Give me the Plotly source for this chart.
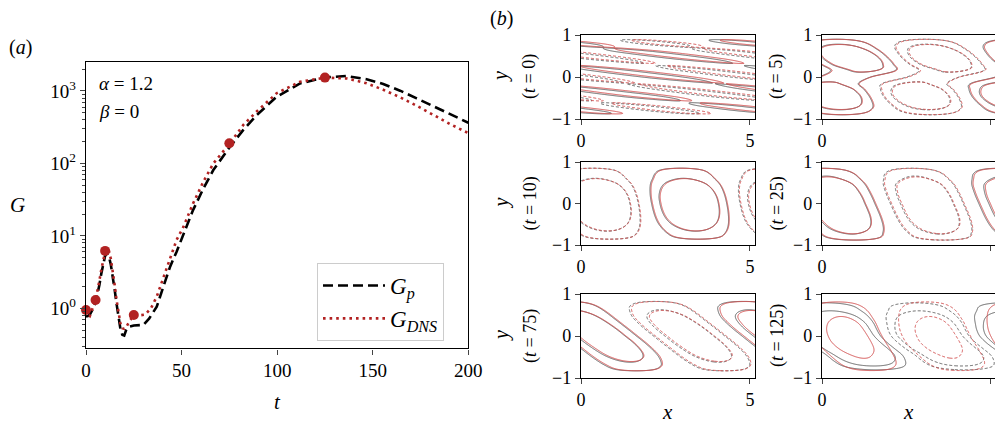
import numpy as np
import plotly.graph_objects as go

# ---------------- panel (a): gain curves ----------------
T_P = [0, 1, 2, 3, 4, 5, 6, 7, 8, 9, 10, 11, 12, 13, 14, 15, 16, 17, 18, 19, 20, 21, 22, 25, 30,
       33, 37, 40.5, 44, 47.4, 51, 56, 61.4, 66.6, 75.3, 82.3, 89.3, 99.7, 112, 125, 136.4, 146.8,
       155.5, 164.3, 173, 181.7, 190.4, 200]
G_P = [0.77, 0.78, 0.82, 0.9, 1.02, 1.2, 1.55, 2.1, 3.0, 4.2, 5.3, 5.7, 5.2, 4.0, 2.8, 1.8, 1.15,
       0.75, 0.52, 0.43, 0.42, 0.5, 0.55, 0.58, 0.59, 0.72, 1.05, 2.0, 3.76, 6.05, 10.8, 22.7, 45,
       81, 170, 290, 465, 830, 1270, 1540, 1610, 1450, 1250, 1010, 790, 620, 480, 365]
T_DNS = [0, 1, 2, 3, 4, 5, 6, 7, 8, 9, 10, 11, 12, 13, 14, 15, 16, 17, 18, 19, 20, 21, 23, 25, 28,
         31, 34, 37, 40.5, 44, 47.4, 51, 56, 61.4, 66.6, 75.3, 82.3, 89.3, 99.7, 112, 125, 136.4,
         146.8, 155.5, 164.3, 173, 181.7, 190.4, 200]
G_DNS = [0.95, 0.82, 0.78, 0.9, 1.1, 1.3, 1.7, 2.4, 3.4, 4.6, 6.0, 6.6, 6.2, 4.8, 3.3, 2.1, 1.3,
         0.85, 0.62, 0.53, 0.52, 0.55, 0.68, 0.8, 0.8, 0.82, 1.0, 1.45, 2.6, 4.9, 8.8, 13.4, 28, 56,
         100, 190, 340, 520, 930, 1340, 1530, 1490, 1280, 1040, 820, 625, 465, 350, 262]
T_SNAP = [0, 5, 10, 25, 75, 125]
G_SNAP = [0.95, 1.3, 6.2, 0.81, 190, 1530]

# ---------------- panel (b): streamfunction snapshots ----------------
ALPHA = 1.2
LEVELS = [0.3, 0.65]
Y_NODES = [-1, -0.9, -0.8, -0.7, -0.6, -0.45, -0.3, -0.15, 0, 0.15, 0.3, 0.45, 0.6, 0.7, 0.8, 0.9, 1]

AMP_P_T0 = [0, 0.26, 0.4, 0.39, 0.295, 0.41, 0.38, 0.3, 0.4, 0.39, 0.295, 0.4, 0.39, 0.3, 0.4, 0.28, 0]
PH_P_T0 = [14.88, 13.68, 12.48, 11.28, 10.08, 8.28, 6.48, 4.68, 2.88, 1.08, -0.72, -2.52, -4.32,
           -5.52, -6.72, -7.92, -9.12]
AMP_D_T0 = [0, 0.26, 0.4, 0.39, 0.295, 0.41, 0.38, 0.3, 0.4, 0.39, 0.295, 0.4, 0.39, 0.3, 0.4, 0.28, 0]
PH_D_T0 = [15.28, 14.08, 12.88, 11.68, 10.48, 8.68, 6.88, 5.08, 3.28, 1.48, -0.32, -2.12, -3.92,
           -5.12, -6.32, -7.52, -8.72]

AMP_P_T5 = [0, 0.3, 0.6, 0.85, 1.05, 1.2, 1.05, 0.72, 0.5, 0.72, 1.05, 1.2, 1.05, 0.85, 0.6, 0.3, 0]
PH_P_T5 = [0.7, 0.7, 0.65, 0.6, 0.5, 0.35, 0.22, 0.15, 0.8, 1.45, 1.25, 1.02, 0.8, 0.65, 0.55, 0.5, 0.5]
AMP_D_T5 = [0, 0.29, 0.58, 0.83, 1.03, 1.18, 1.03, 0.71, 0.49, 0.71, 1.03, 1.18, 1.03, 0.83, 0.58, 0.29, 0]
PH_D_T5 = [0.74, 0.74, 0.69, 0.64, 0.54, 0.39, 0.26, 0.19, 0.84, 1.49, 1.29, 1.06, 0.84, 0.69, 0.59, 0.54, 0.54]

AMP_P_T10 = [0, 0.2, 0.45, 0.6, 0.75, 0.98, 1.15, 1.25, 1.28, 1.25, 1.12, 0.92, 0.66, 0.55, 0.42, 0.18, 0]
PH_P_T10 = [4.2, 4.16, 4.12, 4.08, 4.04, 3.98, 3.93, 3.885, 3.84, 3.795, 3.75, 3.7, 3.64, 3.6,
            3.56, 3.52, 3.5]
AMP_D_T10 = [0, 0.2, 0.44, 0.59, 0.74, 0.96, 1.13, 1.23, 1.26, 1.23, 1.1, 0.9, 0.65, 0.54, 0.41, 0.18, 0]
PH_D_T10 = [4.23, 4.19, 4.15, 4.11, 4.07, 4.01, 3.96, 3.915, 3.87, 3.825, 3.78, 3.73, 3.67, 3.63,
            3.59, 3.55, 3.53]

AMP_P_T25 = [0, 0.25, 0.55, 0.7, 0.85, 1.0, 1.08, 1.1, 1.1, 1.1, 1.05, 0.95, 0.72, 0.6, 0.42, 0.18, 0]
PH_P_T25 = [1.23, 1.165, 1.1, 1.035, 0.97, 0.8725, 0.775, 0.6775, 0.58, 0.4825, 0.385, 0.2875, 0.19,
            0.125, 0.06, -0.005, -0.07]
AMP_D_T25 = [0, 0.24, 0.54, 0.69, 0.83, 0.98, 1.06, 1.08, 1.08, 1.08, 1.03, 0.93, 0.7, 0.58, 0.41, 0.17, 0]
PH_D_T25 = [1.27, 1.205, 1.14, 1.075, 1.01, 0.9125, 0.815, 0.7175, 0.62, 0.5225, 0.425, 0.3275, 0.23,
            0.165, 0.1, 0.035, -0.03]

AMP_P_T75 = [0, 0.1, 0.38, 0.55, 0.68, 0.85, 0.95, 1.0, 1.0, 1.0, 0.95, 0.85, 0.68, 0.55, 0.36, 0.1, 0]
PH_P_T75 = [2.0, 1.98, 1.92, 1.85, 1.72, 1.5, 1.25, 0.98, 0.7, 0.42, 0.15, -0.1, -0.3, -0.42, -0.5,
            -0.55, -0.57]
AMP_D_T75 = [0, 0.1, 0.37, 0.53, 0.66, 0.83, 0.92, 0.97, 0.97, 0.97, 0.92, 0.83, 0.66, 0.53, 0.35, 0.1, 0]
PH_D_T75 = [2.06, 2.04, 1.98, 1.91, 1.78, 1.56, 1.31, 1.04, 0.76, 0.48, 0.21, -0.04, -0.24, -0.36,
            -0.44, -0.49, -0.51]

AMP_P_T125 = [0, 0.1, 0.32, 0.7, 1.0, 1.35, 1.55, 1.6, 1.6, 1.5, 1.3, 1.0, 0.65, 0.5, 0.28, 0.1, 0]
PH_P_T125 = [2.02, 2.0, 1.93, 1.82, 1.7, 1.5, 1.2, 0.92, 0.7, 0.58, 0.5, 0.4, 0.3, 0.22, 0.15, 0.1, 0.08]
AMP_D_T125 = [0, 0.12, 0.35, 0.5, 0.6, 0.7, 0.8, 0.85, 0.85, 0.82, 0.76, 0.66, 0.55, 0.45, 0.32, 0.12, 0]
PH_D_T125 = [1.85, 1.82, 1.76, 1.68, 1.58, 1.4, 1.22, 1.05, 0.92, 0.82, 0.75, 0.68, 0.62, 0.58, 0.55,
             0.53, 0.52]

SNAP_LABELS = ["0", "5", "10", "25", "75", "125"]
SNAP_FIELDS = [(AMP_P_T0, PH_P_T0, AMP_D_T0, PH_D_T0),
               (AMP_P_T5, PH_P_T5, AMP_D_T5, PH_D_T5),
               (AMP_P_T10, PH_P_T10, AMP_D_T10, PH_D_T10),
               (AMP_P_T25, PH_P_T25, AMP_D_T25, PH_D_T25),
               (AMP_P_T75, PH_P_T75, AMP_D_T75, PH_D_T75),
               (AMP_P_T125, PH_P_T125, AMP_D_T125, PH_D_T125)]

# ---------------- helpers ----------------
W, H = 995, 425
FONT = "Liberation Serif"
XMAX1 = 5.15
XMAX2 = 5.12
XG = np.linspace(0, 5.3, 300)
YG = np.linspace(-1, 1, 241)


def hermite(xn, fn, xq):
    xn = np.asarray(xn, float)
    fn = np.asarray(fn, float)
    m = np.gradient(fn, xn)
    i = np.clip(np.searchsorted(xn, xq, side="right") - 1, 0, len(xn) - 2)
    h = xn[i + 1] - xn[i]
    s = (xq - xn[i]) / h
    return ((2 * s**3 - 3 * s**2 + 1) * fn[i] + (s**3 - 2 * s**2 + s) * h * m[i]
            + (-2 * s**3 + 3 * s**2) * fn[i + 1] + (s**3 - s**2) * h * m[i + 1])


def field(amp, ph):
    a = hermite(Y_NODES, amp, YG)
    p = hermite(Y_NODES, ph, YG)
    return a[:, None] * np.cos(ALPHA * XG[None, :] - p[:, None])


def px(x):
    return x / W


def py(y):
    return 1 - y / H


def label(x, y, text, size, angle=0, xanchor="center"):
    return dict(x=px(x), y=py(y), text=text, textangle=angle, showarrow=False,
                xref="paper", yref="paper", xanchor=xanchor, yanchor="middle",
                font=dict(size=size, family=FONT, color="black"))


fig = go.Figure()

# panel (a)
fig.add_trace(go.Scatter(x=T_P, y=G_P, mode="lines", name="<i>G</i><sub><i>p</i></sub>",
                         line=dict(color="black", width=2.6, dash="10px,5px"), xaxis="x", yaxis="y"))
fig.add_trace(go.Scatter(x=T_DNS, y=G_DNS, mode="lines",
                         name="<i>G</i><sub><i>DNS</i></sub>",
                         line=dict(color="#b22222", width=2.6, dash="2.6px,4px"), xaxis="x", yaxis="y"))
fig.add_trace(go.Scatter(x=T_SNAP, y=G_SNAP, mode="markers", showlegend=False,
                         marker=dict(color="#b22222", size=10), xaxis="x", yaxis="y", cliponaxis=False))

# panel (b)
GRAY = "rgb(95,95,95)"
RED = "rgb(212,78,78)"
col_x = [(581, 755, XMAX1), (822, 995, XMAX2)]
row_y = [(35, 119), (162, 245), (294, 378)]

layout_axes = {}
annotations = []
for k, (lab, flds) in enumerate(zip(SNAP_LABELS, SNAP_FIELDS)):
    r, c = divmod(k, 2)
    idx = k + 2
    xa, ya = f"x{idx}", f"y{idx}"
    x0, x1, xmax = col_x[c]
    y0, y1 = row_y[r]
    for (amp, ph), color in [((flds[0], flds[1]), GRAY), ((flds[2], flds[3]), RED)]:
        Z = field(amp, ph)
        for sgn, dash in [(1, "solid"), (-1, "3px,2px")]:
            lv = sorted([sgn * LEVELS[0], sgn * LEVELS[1]])
            fig.add_trace(go.Contour(
                x=XG, y=YG, z=Z, xaxis=xa, yaxis=ya, autocontour=False,
                contours=dict(coloring="lines", start=lv[0], end=lv[1], size=lv[1] - lv[0]),
                line=dict(width=1.0, dash=dash, smoothing=1.0),
                colorscale=[[0, color], [1, color]], showscale=False,
                hoverinfo="skip", showlegend=False))
    layout_axes[f"xaxis{idx}"] = dict(
        domain=[px(x0), px(x1)], range=[0, xmax], anchor=ya, tickmode="array", tickvals=[0, 5],
        ticks="outside", ticklen=5, tickwidth=1.2, showline=True, linecolor="black", linewidth=1.4,
        mirror=True, showgrid=False, zeroline=False, automargin=False,
        tickfont=dict(size=18, family=FONT, color="black"))
    layout_axes[f"yaxis{idx}"] = dict(
        domain=[py(y1), py(y0)], range=[-1, 1], anchor=xa, tickmode="array", tickvals=[-1, 0, 1],
        ticktext=["\u22121", "0", "1"],
        ticks="outside", ticklen=5, tickwidth=1.2, showline=True, linecolor="black", linewidth=1.4,
        mirror=(c == 0), showgrid=False, zeroline=False, automargin=False,
        tickfont=dict(size=18, family=FONT, color="black"))
    yc = (y0 + y1) / 2
    if c == 0:
        annotations.append(label(501, yc, "<i>y</i>", 20, angle=-90))
        annotations.append(label(530, yc, f"(<i>t</i> = {lab})", 18, angle=-90))
    else:
        annotations.append(label(777, yc, f"(<i>t</i> = {lab})", 18, angle=-90))

for xx in [667, 908]:
    annotations.append(label(xx, 412, "<i>x</i>", 21))

annotations += [
    label(20, 47, "(<i>a</i>)", 20),
    label(501, 18, "(<i>b</i>)", 20),
    label(97, 83, "<i>α</i> = 1.2", 19, xanchor="left"),
    label(97, 111, "<i>β</i> = 0", 19, xanchor="left"),
    label(17, 205, "<i>G</i>", 21),
    label(277, 402, "<i>t</i>", 21),
]

minor_vals = [m * 10.0**e for e in range(-1, 4) for m in range(2, 10)]
minor_vals = [v for v in minor_vals if 0.28 <= v <= 2500]

fig.update_layout(
    width=W, height=H, margin=dict(l=0, r=0, t=0, b=0, autoexpand=False),
    paper_bgcolor="white", plot_bgcolor="white",
    font=dict(family=FONT, color="black"),
    xaxis=dict(domain=[px(86), px(468.3)], range=[0, 200], anchor="y", tickmode="array",
               tickvals=[0, 50, 100, 150, 200], ticks="outside", ticklen=5, tickwidth=1.2,
               showline=True, linecolor="black", linewidth=1.4, mirror=True, showgrid=False,
               zeroline=False, automargin=False, tickfont=dict(size=19, family=FONT, color="black")),
    yaxis=dict(domain=[py(348.3), py(62.3)], type="log", range=[-0.552, 3.396], anchor="x",
               tickmode="array", tickvals=[1, 10, 100, 1000],
               ticktext=["10<sup>0</sup>", "10<sup>1</sup>", "10<sup>2</sup>", "10<sup>3</sup>"],
               ticks="outside", ticklen=5, tickwidth=1.2, showline=True, linecolor="black",
               linewidth=1.4, mirror=True, showgrid=False, zeroline=False, automargin=False,
               tickfont=dict(size=19, family=FONT, color="black"),
               minor=dict(tickmode="array", tickvals=minor_vals, ticks="outside", ticklen=3,
                          tickwidth=0.8, showgrid=False)),
    legend=dict(x=px(317), y=py(263), xanchor="left", yanchor="top", bgcolor="white",
                bordercolor="#cccccc", borderwidth=1, font=dict(size=23, family=FONT, color="black"),
                itemwidth=62, tracegroupgap=0),
    annotations=annotations,
    **layout_axes,
)

fig.write_html("out.html")
